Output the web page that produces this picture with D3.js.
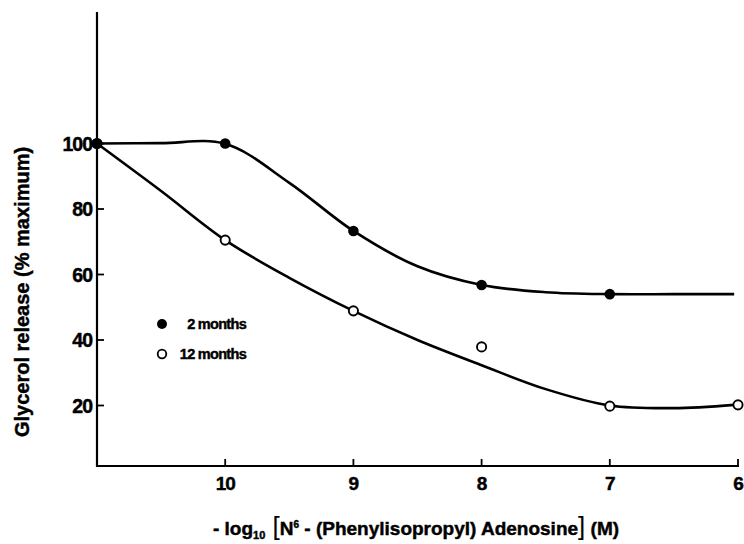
<!DOCTYPE html>
<html>
<head>
<meta charset="utf-8">
<script src="https://cdn.jsdelivr.net/npm/d3@7"></script>
<style>
  body { margin: 0; background: #fff; }
  text { font-family: "Liberation Sans", Arial, sans-serif; font-weight: bold; fill: #000; stroke: #000; stroke-width: 0.45px; }
</style>
</head>
<body>
<script>
// measured points
var conc = [11, 10, 9, 8, 7, 6];
var twoMonths = [100, 100, 73.3, 56.8, 54];          // no point at 6
var twelveMonths = [100, 70.5, 48.9, 37.9, 19.8, 20.2];

// fitted curves as drawn in the figure
var curveX = [11, 10.5, 10, 9.5, 9, 8.5, 8, 7.5, 7, 6.5, 6.03];
var twoMonthsCurve = [100, 100.1, 99.9, 88, 73.3, 62.5, 56.8, 54.6, 54, 54, 54];
var twelveMonthsCurve = [100, 85.5, 70.5, 59, 48.9, 40, 32.3, 25, 20, 19.2, 20.2];

var xTicks = [10, 9, 8, 7, 6];
var yTicks = [20, 40, 60, 80, 100];

var width = 744, height = 544;

var svg = d3.select("body").append("svg")
    .attr("width", width)
    .attr("height", height);

var x = d3.scaleLinear().domain([11, 6]).range([97, 738]);
var y = d3.scaleLinear().domain([0, 100]).range([471, 143.5]);

var axisY = 466;

// axes lines
svg.append("line")
    .attr("x1", x(11)).attr("x2", x(11))
    .attr("y1", 12).attr("y2", axisY + 1)
    .attr("stroke", "#000").attr("stroke-width", 2.2);
svg.append("line")
    .attr("x1", x(11) - 1).attr("x2", x(6) + 1)
    .attr("y1", axisY).attr("y2", axisY)
    .attr("stroke", "#000").attr("stroke-width", 2.2);

// x ticks (pointing up)
svg.selectAll(".xt").data(xTicks).enter().append("line")
    .attr("x1", function (d) { return x(d); })
    .attr("x2", function (d) { return x(d); })
    .attr("y1", axisY).attr("y2", axisY - 7)
    .attr("stroke", "#000").attr("stroke-width", 1.8);

svg.selectAll(".xl").data(xTicks).enter().append("text")
    .attr("x", function (d) { return x(d); })
    .attr("y", 490)
    .attr("text-anchor", "middle")
    .style("font-size", "19px")
    .style("letter-spacing", "-1px")
    .text(function (d) { return d; });

// y ticks (pointing right)
svg.selectAll(".yt").data(yTicks).enter().append("line")
    .attr("x1", x(11)).attr("x2", x(11) + 7)
    .attr("y1", function (d) { return y(d); })
    .attr("y2", function (d) { return y(d); })
    .attr("stroke", "#000").attr("stroke-width", 1.8);

svg.selectAll(".yl").data(yTicks).enter().append("text")
    .attr("x", 92)
    .attr("y", function (d) { return y(d) + 7; })
    .attr("text-anchor", "end")
    .style("font-size", "19.5px")
    .style("letter-spacing", "-1px")
    .text(function (d) { return d; });

// curves
var line = d3.line()
    .x(function (d) { return x(d[0]); })
    .y(function (d) { return y(d[1]); })
    .curve(d3.curveCatmullRom.alpha(0.5));

svg.append("path")
    .datum(d3.zip(curveX, twoMonthsCurve))
    .attr("d", line)
    .attr("fill", "none").attr("stroke", "#000").attr("stroke-width", 2.6);

svg.append("path")
    .datum(d3.zip(curveX, twelveMonthsCurve))
    .attr("d", line)
    .attr("fill", "none").attr("stroke", "#000").attr("stroke-width", 2.6);

// points
svg.selectAll(".p12").data(d3.zip(conc, twelveMonths)).enter().append("circle")
    .attr("cx", function (d) { return x(d[0]); })
    .attr("cy", function (d) { return y(d[1]); })
    .attr("r", 4.6)
    .attr("fill", "#fff").attr("stroke", "#000").attr("stroke-width", 1.9);

svg.selectAll(".p2").data(d3.zip(conc.slice(0, twoMonths.length), twoMonths)).enter().append("circle")
    .attr("cx", function (d) { return x(d[0]); })
    .attr("cy", function (d) { return y(d[1]); })
    .attr("r", 5.3)
    .attr("fill", "#000");

// legend
svg.append("circle").attr("cx", 162).attr("cy", 324).attr("r", 5).attr("fill", "#000");
svg.append("text").attr("x", 246).attr("y", 329).attr("text-anchor", "end")
    .style("font-size", "14.5px").style("letter-spacing", "-0.7px").text("2 months");
svg.append("circle").attr("cx", 162).attr("cy", 354).attr("r", 4.3)
    .attr("fill", "#fff").attr("stroke", "#000").attr("stroke-width", 1.8);
svg.append("text").attr("x", 246).attr("y", 359).attr("text-anchor", "end")
    .style("font-size", "14.5px").style("letter-spacing", "-0.7px").text("12 months");

// y title
svg.append("text")
    .attr("transform", "translate(29,292) rotate(-90)")
    .attr("text-anchor", "middle")
    .style("font-size", "20px")
    .style("letter-spacing", "0px")
    .text("Glycerol release (% maximum)");

// x title
var xt = svg.append("text")
    .attr("x", 416).attr("y", 535)
    .attr("text-anchor", "middle")
    .style("font-size", "19px")
    .style("letter-spacing", "0px");
xt.append("tspan").text("- log");
xt.append("tspan").attr("dy", 4).style("font-size", "11px").text("10");
xt.append("tspan").attr("dy", -4).style("font-size", "26px").style("font-weight", "normal").style("stroke-width", "0").text(" [");
xt.append("tspan").text("N");
xt.append("tspan").attr("dy", -7).style("font-size", "10px").text("6");
xt.append("tspan").attr("dy", 7).text(" - (Phenylisopropyl) Adenosine");
xt.append("tspan").style("font-size", "26px").style("font-weight", "normal").style("stroke-width", "0").text("]");
xt.append("tspan").text(" (M)");
</script>
</body>
</html>
